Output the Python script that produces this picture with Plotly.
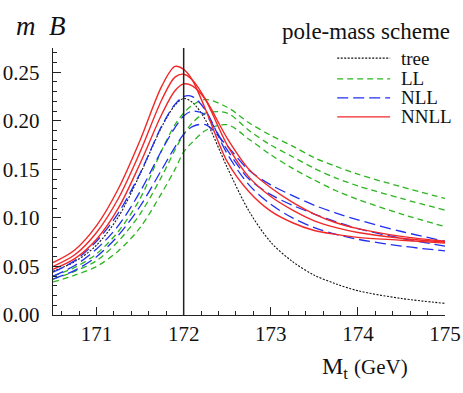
import plotly.graph_objects as go

# ---- data ----
mass = [170.5, 170.75, 171.0, 171.25, 171.5, 171.75, 171.9, 172.0, 172.1, 172.25,
        172.5, 172.75, 173.0, 173.25, 173.5, 173.75, 174.0, 174.5, 175.0]

tree = [0.045, 0.055, 0.072, 0.101, 0.145, 0.194, 0.216, 0.223, 0.219, 0.201,
        0.152, 0.107, 0.075, 0.055, 0.041, 0.032, 0.025, 0.017, 0.012]

ll_1 = [0.040, 0.049, 0.063, 0.086, 0.120, 0.170, 0.196, 0.208, 0.216, 0.222,
        0.214, 0.198, 0.185, 0.174, 0.162, 0.153, 0.145, 0.132, 0.120]
ll_2 = [0.037, 0.045, 0.056, 0.076, 0.104, 0.143, 0.170, 0.186, 0.198, 0.208,
        0.208, 0.190, 0.175, 0.163, 0.151, 0.141, 0.133, 0.120, 0.108]
ll_3 = [0.034, 0.041, 0.050, 0.066, 0.090, 0.126, 0.150, 0.168, 0.178, 0.190,
        0.196, 0.181, 0.165, 0.151, 0.139, 0.128, 0.119, 0.104, 0.091]

nll_1 = [0.044, 0.056, 0.076, 0.105, 0.146, 0.195, 0.217, 0.225, 0.225, 0.211,
         0.166, 0.134, 0.114, 0.100, 0.090, 0.083, 0.078, 0.071, 0.066]
nll_2 = [0.040, 0.051, 0.068, 0.092, 0.127, 0.170, 0.193, 0.205, 0.210, 0.206,
         0.170, 0.140, 0.124, 0.113, 0.104, 0.096, 0.089, 0.079, 0.071]
nll_3 = [0.037, 0.046, 0.060, 0.082, 0.112, 0.150, 0.173, 0.186, 0.194, 0.196,
         0.174, 0.149, 0.134, 0.123, 0.113, 0.105, 0.098, 0.086, 0.076]

nnll_1 = [0.054, 0.067, 0.092, 0.130, 0.180, 0.236, 0.256, 0.253, 0.242, 0.212,
          0.158, 0.127, 0.107, 0.095, 0.087, 0.083, 0.080, 0.077, 0.074]
nnll_2 = [0.050, 0.062, 0.085, 0.120, 0.168, 0.222, 0.245, 0.248, 0.242, 0.222,
          0.175, 0.142, 0.122, 0.108, 0.097, 0.090, 0.085, 0.079, 0.075]
nnll_3 = [0.047, 0.058, 0.078, 0.110, 0.156, 0.207, 0.231, 0.238, 0.236, 0.222,
          0.182, 0.150, 0.131, 0.116, 0.104, 0.095, 0.089, 0.081, 0.076]

ref_mass = 172.0
x_ticks = [171, 172, 173, 174, 175]
y_ticks = [0.00, 0.05, 0.10, 0.15, 0.20, 0.25]
legend_names = ["tree", "LL", "NLL", "NNLL"]

SERIF = "Liberation Serif"

styles = [
    dict(color="#111111", width=1.1, dash="2px,1.5px"),
    dict(color="#2cb51f", width=1.3, dash="6px,4px"),
    dict(color="#1f2ff0", width=1.3, dash="11px,5px"),
    dict(color="#f02828", width=1.4, dash="solid"),
]
series_groups = [[tree], [ll_1, ll_2, ll_3], [nll_1, nll_2, nll_3], [nnll_1, nnll_2, nnll_3]]

fig = go.Figure()
for name, series, style in zip(legend_names, series_groups, styles):
    for ys in series:
        fig.add_trace(go.Scatter(
            x=mass, y=ys, mode="lines", name=name, legendgroup=name,
            showlegend=False, line=dict(shape="spline", smoothing=0.9, **style),
            hoverinfo="skip"))

fig.add_shape(type="line", xref="x", yref="paper", x0=ref_mass, x1=ref_mass,
              y0=0, y1=1, line=dict(color="#222222", width=1.5))

# custom legend (sample lines + labels), placed in paper coordinates
annotations = []
row_y = [0.962, 0.884, 0.813, 0.742]
for name, style, yy in zip(legend_names, styles, row_y):
    fig.add_shape(type="line", xref="paper", yref="paper", x0=0.725, x1=0.86,
                  y0=yy, y1=yy, line=style)
    annotations.append(dict(text=name, xref="paper", yref="paper", x=0.882, y=yy,
                            xanchor="left", yanchor="middle", showarrow=False,
                            font=dict(family=SERIF, size=19, color="#111111")))

annotations += [
    dict(text="<i>m</i>\u2002<i>B</i>", xref="paper", yref="paper",
         x=-0.1, y=1.083, xanchor="left", yanchor="middle",
         showarrow=False, font=dict(family=SERIF, size=27, color="#111111")),
    dict(text="pole-mass scheme", xref="paper", yref="paper",
         x=1.018, y=1.063, xanchor="right", yanchor="middle",
         showarrow=False, font=dict(family=SERIF, size=23, color="#111111")),
    dict(text="M<sub>t</sub> <span style='font-size:21px'>(GeV)</span>",
         xref="paper", yref="paper", x=0.797, y=-0.2,
         xanchor="center", yanchor="middle", showarrow=False,
         font=dict(family=SERIF, size=24, color="#111111")),
]

fig.update_layout(
    width=463, height=393,
    margin=dict(l=53, r=18, t=48, b=78, autoexpand=False),
    paper_bgcolor="white", plot_bgcolor="white",
    font=dict(family=SERIF, color="#111111", size=21),
    showlegend=False,
    annotations=annotations,
)

fig.update_xaxes(range=[170.5, 175], tickvals=x_ticks, ticktext=[str(v) for v in x_ticks],
                 ticks="inside", ticklen=8, tickwidth=1, tickcolor="#222",
                 minor=dict(dtick=0.2, tick0=0, ticks="inside", ticklen=4, tickcolor="#222"),
                 showline=True, linecolor="#222", linewidth=1.2, showgrid=False,
                 zeroline=False, mirror=False, automargin=False,
                 tickfont=dict(family=SERIF, size=21), ticklabelstandoff=0)
fig.update_yaxes(range=[0, 0.275], tickvals=y_ticks, ticktext=[f"{v:.2f}" for v in y_ticks],
                 ticks="inside", ticklen=8, tickwidth=1, tickcolor="#222",
                 minor=dict(dtick=0.01, tick0=0, ticks="inside", ticklen=4, tickcolor="#222"),
                 showline=True, linecolor="#222", linewidth=1.2, showgrid=False,
                 zeroline=False, mirror=False, automargin=False,
                 tickfont=dict(family=SERIF, size=21), ticklabelstandoff=8)

fig.write_html("out.html", config={"displayModeBar": False, "staticPlot": True},
               post_script="document.body.style.margin='0';document.body.style.padding='0';")
